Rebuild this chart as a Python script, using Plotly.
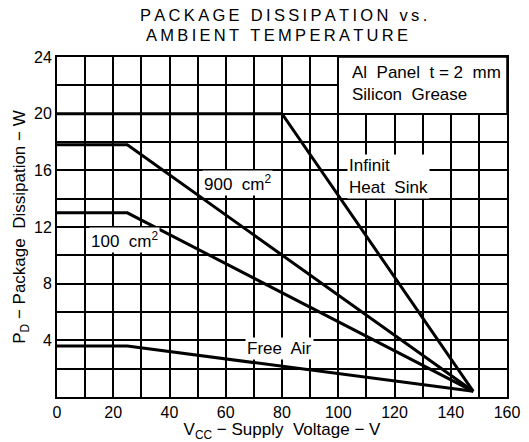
import plotly.graph_objects as go

# Data
vcc_infinite = [0, 80, 148]
pd_infinite = [20, 20, 0.4]
vcc_900 = [0, 25, 148]
pd_900 = [17.8, 17.8, 0.4]
vcc_100 = [0, 25, 148]
pd_100 = [13, 13, 0.4]
vcc_free = [0, 25, 148]
pd_free = [3.6, 3.6, 0.4]

x_ticks = [0, 20, 40, 60, 80, 100, 120, 140, 160]
y_ticks = [4, 8, 12, 16, 20, 24]

title_lines = ["PACKAGE DISSIPATION vs.", "AMBIENT TEMPERATURE"]

FONT = "Liberation Sans, Arial, sans-serif"
line_style = dict(color="black", width=3)

W, H = 529, 442
L, R, T, B = 57, 22, 57, 45

fig = go.Figure()
for xs, ys in [(vcc_infinite, pd_infinite), (vcc_900, pd_900), (vcc_100, pd_100), (vcc_free, pd_free)]:
    fig.add_trace(go.Scatter(x=xs, y=ys, mode="lines", line=line_style, showlegend=False, hoverinfo="skip"))

# Note box in top right
fig.add_shape(type="rect", x0=100, x1=160, y0=20, y1=24, xref="x", yref="y",
              fillcolor="white", line=dict(color="black", width=1.5), layer="above")

def ann(x, y, text, xanchor="center", bg="white", size=17, xref="x", yref="y"):
    fig.add_annotation(x=x, y=y, text=text, showarrow=False, xanchor=xanchor, yanchor="middle",
                       align="left", xref=xref, yref=yref,
                       font=dict(family=FONT, size=size, color="black"), bgcolor=bg, borderpad=1)

ann(104, 22.1, "Al  Panel  t = 2  mm<br>Silicon  Grease", xanchor="left", bg="rgba(0,0,0,0)")
ann(103, 15.6, "Infinit<br>Heat  Sink", xanchor="left")
ann(64, 15.1, "900  cm<sup>2</sup>")
ann(24, 11.1, "100  cm<sup>2</sup>")
ann(79, 3.4, "Free  Air")

def spaced(s):
    return "\u2009".join(s)

pw, ph = W - L - R, H - T - B
def px(x):
    return (x - L) / pw
def py(y):
    return (H - B - y) / ph

# Title (two lines) as paper annotations
ann(px(283), py(15), spaced(title_lines[0]), xref="paper", yref="paper", bg="rgba(0,0,0,0)", size=16.5)
ann(px(277), py(35), spaced(title_lines[1]), xref="paper", yref="paper", bg="rgba(0,0,0,0)", size=16.5)

fig.update_layout(
    width=W, height=H,
    margin=dict(l=L, r=R, t=T, b=B, autoexpand=False),
    paper_bgcolor="white", plot_bgcolor="white",
    font=dict(family=FONT, size=16, color="black"),
)

fig.update_xaxes(range=[0, 160], tickvals=x_ticks, showgrid=True, gridcolor="black", gridwidth=1.5,
                 minor=dict(dtick=10, showgrid=True, gridcolor="black", gridwidth=1.5),
                 showline=True, linecolor="black", linewidth=2, mirror=True, zeroline=False,
                 ticks="", automargin=False,
                 title=dict(text="V<sub>CC</sub> − Supply  Voltage − V", standoff=0,
                            font=dict(family=FONT, size=17)))
fig.update_yaxes(range=[0, 24], tickvals=y_ticks, showgrid=True, gridcolor="black", gridwidth=1.5,
                 minor=dict(dtick=2, showgrid=True, gridcolor="black", gridwidth=1.5),
                 showline=True, linecolor="black", linewidth=2, mirror=True, zeroline=False,
                 ticks="", automargin=False,
                 title=dict(text="P<sub>D</sub> − Package  Dissipation − W", standoff=4,
                            font=dict(family=FONT, size=17)))

fig.write_html("out.html", config={"displayModeBar": False},
               post_script="document.body.style.margin='0';document.body.style.overflow='hidden';")
